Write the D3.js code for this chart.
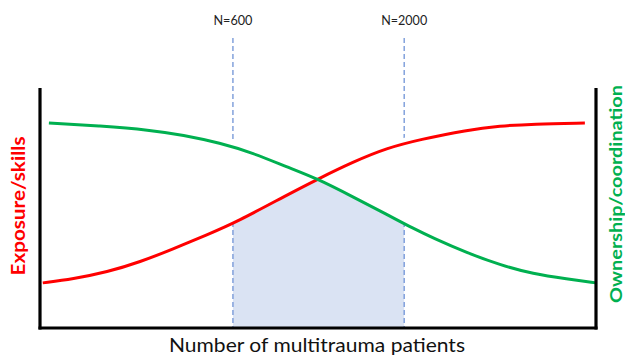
<!DOCTYPE html>
<html>
<head>
<meta charset="utf-8">
<script src="https://cdn.jsdelivr.net/npm/d3@7"></script>
<style>
  body { margin: 0; background: #fff; }
  text { font-family: Lato, "Open Sans", sans-serif; }
</style>
</head>
<body>
<div id="chart"></div>
<script>
// data (arbitrary units)
var redX   = [0.5, 5.9, 12.1, 18, 23.9, 30, 35.4, 44.4, 50, 56.3, 62.4, 68.3, 76.8, 82.7, 88.7, 98];
var redY   = [18.8, 20.4, 23.3, 27.5, 32.9, 38.8, 44.2, 55.4, 62.1, 69.2, 75, 78.5, 82.5, 84.2, 85, 85.4];
var greenX = [1.6, 10.8, 19.8, 25.7, 32.4, 38.3, 44.4, 50, 56.3, 62.4, 67.1, 70.7, 76.8, 82.7, 88.7, 94.8, 100];
var greenY = [85.4, 84.2, 82.5, 80.4, 77.1, 72.9, 67.1, 62.1, 54.6, 47.3, 41.5, 37.5, 31.3, 26.3, 22.5, 20.4, 18.8];
var markerLabels = ["N=600", "N=2000"];
var markerX = [34.7, 65.5];
var leftLabel = "Exposure/skills";
var rightLabel = "Ownership/coordination";
var xLabel = "Number of multitrauma patients";

var W = 625, H = 356;
var margin = {top: 88, right: 29, bottom: 28, left: 40};

var svg = d3.select("#chart").append("svg")
  .attr("width", W)
  .attr("height", H);

var xScale = d3.scaleLinear().domain([0, 100]).range([margin.left, W - margin.right]);
var yScale = d3.scaleLinear().domain([0, 100]).range([H - margin.bottom, margin.top]);

var red = redX.map((x, i) => [x, redY[i]]);
var green = greenX.map((x, i) => [x, greenY[i]]);
var curve = d3.curveBasis;

var line = d3.line()
  .x(d => xScale(d[0]))
  .y(d => yScale(d[1]))
  .curve(curve);

// clip areas under / above each curve
function under(d) {
  return d3.area().x(p => xScale(p[0])).y0(H).y1(p => yScale(p[1])).curve(curve)(d);
}
function above(d, gap) {
  return d3.area().x(p => xScale(p[0])).y0(0).y1(p => yScale(p[1]) - gap).curve(curve)(d);
}
var defs = svg.append("defs");
[["underRed", under(red)], ["underGreen", under(green)],
 ["aboveRed", above(red, 6)], ["aboveGreen", above(green, 7)]].forEach(function(c) {
  defs.append("clipPath").attr("id", c[0]).append("path").attr("d", c[1]);
});

var x0 = xScale(markerX[0]), x1 = xScale(markerX[1]);
var yBot = yScale(0);

//// shaded zone below both curves
var lower = svg.append("g").attr("clip-path", "url(#underGreen)")
  .append("g").attr("clip-path", "url(#underRed)");
lower.append("rect")
  .attr("x", x0).attr("width", x1 - x0)
  .attr("y", 0).attr("height", yBot)
  .attr("fill", "#dae3f3");

var upper = svg.append("g").attr("clip-path", "url(#aboveGreen)")
  .append("g").attr("clip-path", "url(#aboveRed)");

//// dashed markers
[lower, upper].forEach(function(g) {
  g.selectAll(".mark")
    .data(markerX)
    .enter().append("line")
    .attr("x1", d => xScale(d)).attr("x2", d => xScale(d))
    .attr("y1", 38)
    .attr("y2", yBot)
    .attr("stroke", "#6f93d6")
    .attr("stroke-width", 1.3)
    .attr("stroke-dasharray", "5,3");
});

svg.selectAll(".mlabel")
  .data(markerLabels)
  .enter().append("text")
  .attr("x", (d, i) => xScale(markerX[i]))
  .attr("y", 25)
  .attr("text-anchor", "middle")
  .attr("font-size", 14)
  .attr("fill", "#222")
  .attr("textLength", d => d.length == 5 ? 39 : 46)
  .attr("lengthAdjust", "spacingAndGlyphs")
  .text(d => d);

//// curves
svg.append("path").attr("d", line(red))
  .attr("fill", "none").attr("stroke", "#ff0000").attr("stroke-width", 3);
svg.append("path").attr("d", line(green))
  .attr("fill", "none").attr("stroke", "#00b050").attr("stroke-width", 3);

//// frame
var axisStroke = 3.2;
svg.append("line")
  .attr("x1", xScale(0)).attr("x2", xScale(0))
  .attr("y1", yScale(100)).attr("y2", yBot + 1.5)
  .attr("stroke", "#000").attr("stroke-width", axisStroke);
svg.append("line")
  .attr("x1", xScale(100)).attr("x2", xScale(100))
  .attr("y1", yScale(100)).attr("y2", yBot + 1.5)
  .attr("stroke", "#000").attr("stroke-width", axisStroke);
svg.append("line")
  .attr("x1", xScale(0) - 1.5).attr("x2", xScale(100) + 1.5)
  .attr("y1", yBot).attr("y2", yBot)
  .attr("stroke", "#000").attr("stroke-width", axisStroke);

//// labels
svg.append("text")
  .attr("transform", "translate(25,206) rotate(-90)")
  .attr("text-anchor", "middle")
  .attr("font-size", 18).attr("font-weight", "bold")
  .attr("fill", "#ff0000")
  .attr("textLength", 139).attr("lengthAdjust", "spacingAndGlyphs")
  .text(leftLabel);

svg.append("text")
  .attr("transform", "translate(622,194) rotate(-90)")
  .attr("text-anchor", "middle")
  .attr("font-size", 17).attr("font-weight", "bold")
  .attr("fill", "#00b050")
  .attr("textLength", 218).attr("lengthAdjust", "spacingAndGlyphs")
  .text(rightLabel);

svg.append("text")
  .attr("x", 317).attr("y", 352)
  .attr("text-anchor", "middle")
  .attr("font-size", 20)
  .attr("fill", "#111")
  .attr("textLength", 296).attr("lengthAdjust", "spacingAndGlyphs")
  .text(xLabel);
</script>
</body>
</html>
